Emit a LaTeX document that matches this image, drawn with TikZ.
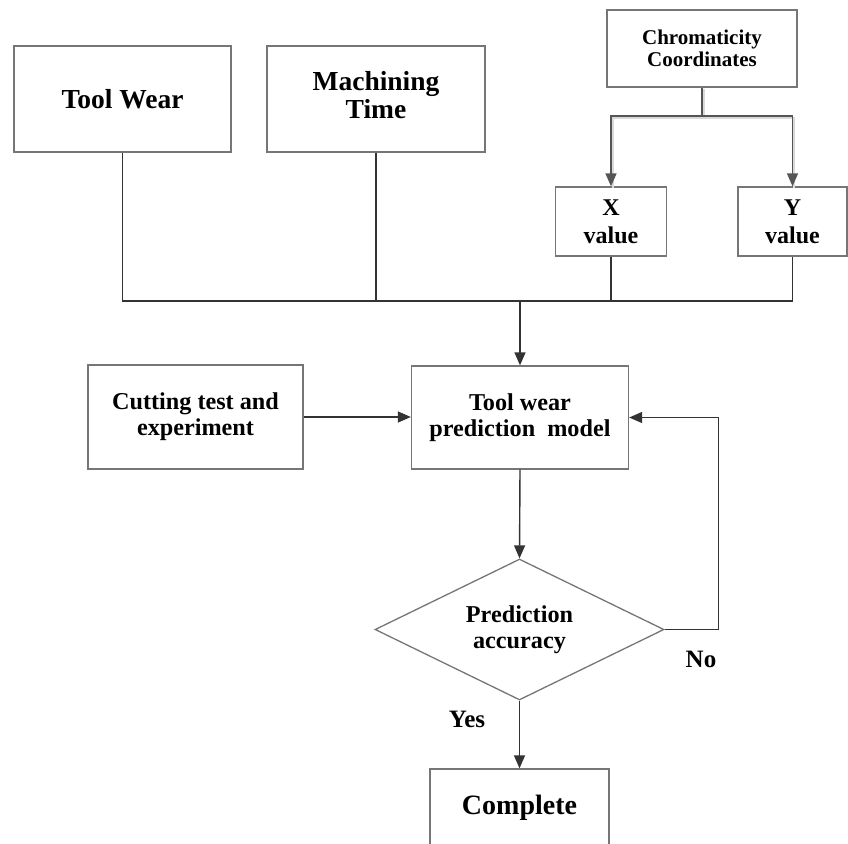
\documentclass[tikz,border=0pt]{standalone}
\usepackage{fontspec}
\setmainfont{Liberation Serif}
\usetikzlibrary{arrows.meta,shapes.geometric}
\definecolor{edgegray}{HTML}{767676}
\definecolor{linegray}{HTML}{333333}
\definecolor{headgray}{HTML}{555555}
\begin{document}
\begin{tikzpicture}[x=1pt,y=-1pt,
  box/.style={draw=edgegray,line width=1.3pt,fill=white,align=center,inner sep=0pt,
    font=\bfseries\fontsize{24.2}{26}\selectfont},
  bigtext/.style={font=\bfseries\fontsize{27.5}{28}\selectfont},
  smalltext/.style={font=\bfseries\fontsize{21}{22}\selectfont},
  conn/.style={draw=linegray,line width=1.4pt},
  arr/.style={conn,-{Triangle[length=13pt,width=11pt]}},
  branch/.style={draw=headgray,line width=1.4pt,-{Triangle[length=13pt,width=11pt]},
    preaction={draw=black!15,line width=2pt,-,transform canvas={shift={(1.8pt,-1.8pt)}}}},
  label/.style={font=\bfseries\fontsize{25}{26}\selectfont,inner sep=0pt}]
\useasboundingbox (0,0) rectangle (848,843);
\clip (0,0) rectangle (848,843);

% input boxes
\node[box,bigtext,minimum width=217pt,minimum height=106pt] (tw) at (122.5,99) {Tool Wear};
\node[box,bigtext,minimum width=218pt,minimum height=106pt,text depth=9pt] (mt) at (376,99) {Machining\\Time};
\node[box,smalltext,minimum width=190pt,minimum height=77pt] (cc) at (702,48.5) {Chromaticity\\Coordinates};
\node[box,font=\bfseries\fontsize{24}{28}\selectfont,minimum width=111pt,minimum height=69pt] (xv) at (611,221.5) {X\\value};
\node[box,font=\bfseries\fontsize{24}{28}\selectfont,minimum width=109pt,minimum height=69pt] (yv) at (792.5,221.5) {Y\\value};

% model stage
\node[box,minimum width=215pt,minimum height=104pt] (ct) at (195.5,417) {Cutting test and\\experiment};
\node[box,minimum width=217pt,minimum height=103pt] (pm) at (520,417.5) {Tool wear\\prediction\ \ model};
\node[box,diamond,inner sep=-14pt,minimum width=289pt,minimum height=141pt] (dm) at (519.5,629.5) {Prediction\\accuracy};
\node[box,font=\bfseries\fontsize{28}{30}\selectfont,minimum width=179pt,minimum height=78pt] (cp) at (519.5,808) {Complete};

% chromaticity split
\coordinate (split) at (702,116);
\draw[draw=headgray,line width=1.4pt,
  preaction={draw=black!15,line width=2pt,transform canvas={shift={(1.8pt,-1.8pt)}}}] (cc.south) -- (split);
\draw[branch] (split) -| (xv.north);
\draw[branch] (split) -| (yv.north);

% collecting bus
\coordinate (bus) at (520,301);
\draw[conn] (tw.south) |- (bus) -| (yv.south);
\draw[conn] (mt.south) -- (mt.south |- bus);
\draw[conn] (xv.south) -- (xv.south |- bus);
\draw[arr] (bus) -- (pm.north);

% flow
\draw[arr] (ct.east) -- (ct.east -| pm.west);
\draw[arr] (pm.south) -- (dm.north);
\draw[arr] (dm.east) -- ++(54,0) |- (pm.east);
\draw[arr] (dm.south) -- (cp.north);

\node[label] (yes) at (467,719) {Yes};
\node[label] (no) at (701,659) {No};
\end{tikzpicture}
\end{document}
